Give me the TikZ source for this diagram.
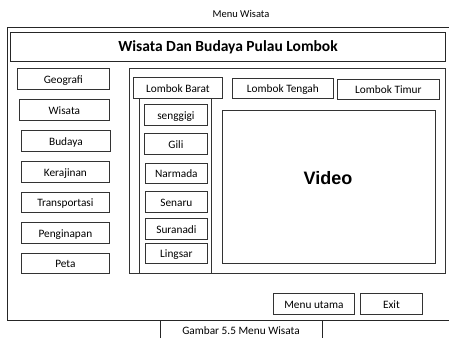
\documentclass[tikz,border=0pt]{standalone}
\usepackage{fontspec}
\setmainfont{Carlito}
\newfontfamily\videofont{Liberation Sans}
\begin{document}
\begin{tikzpicture}[x=1pt,y=-1pt,
  box/.style={draw=black!80,line width=0.8pt,fill=white,rectangle,inner sep=0pt,anchor=north west,font=\fontsize{11.3}{13}\selectfont},
  panel/.style={draw=black!80,line width=0.9pt,fill=white},
]
\useasboundingbox (0,0) rectangle (449,338);
\newcommand{\btn}[6]{% name, x1, y1, x2, y2, text
  \node[box,minimum width=#4-#2,minimum height=#5-#3] (#1) at (#2,#3) {\raisebox{-4.5pt}[0pt][0pt]{#6}};}
% heading
\node[font=\fontsize{10.5}{12}\selectfont] (head) at (241,14) {Menu Wisata};
% outer frame
\draw[line width=1pt,black!85] (449,27) -- (7,27) -- (7,320) -- (449,320);
% title
\node[draw=black!85,line width=0.9pt,rectangle,inner sep=0pt,anchor=north west,minimum width=435,minimum height=29,font=\bfseries\fontsize{15.5}{17}\selectfont] (title) at (10,32) {Wisata Dan Budaya Pulau Lombok};
% left menu
\btn{geo}{17}{68}{109}{89}{Geografi}
\btn{wis}{19}{99}{109}{120}{Wisata}
\btn{bud}{21}{130}{110}{151}{Budaya}
\btn{ker}{21}{161}{109}{182}{Kerajinan}
\btn{tra}{21}{192}{109}{212}{Transportasi}
\btn{pen}{21}{222}{109}{243}{Penginapan}
\btn{pet}{21}{253}{109}{273}{Peta}
% right panel
\node[panel,rectangle,inner sep=0pt,anchor=north west,minimum width=316,minimum height=205] (rpanel) at (129,68) {};
% list panel
\node[panel,rectangle,inner sep=0pt,anchor=north west,minimum width=72,minimum height=175] (lpanel) at (139,98) {};
\btn{lbar}{133}{77}{222}{98}{Lombok Barat}
\btn{lten}{232}{78}{333}{98}{Lombok Tengah}
\btn{ltim}{337}{79}{439}{99}{Lombok Timur}
% list items
\btn{sen}{144}{104}{207}{125}{senggigi}
\btn{gil}{144}{133}{207}{154}{Gili}
\btn{nar}{145}{163}{207}{183}{Narmada}
\btn{snr}{145}{191}{207}{212}{Senaru}
\btn{sur}{145}{218}{207}{239}{Suranadi}
\btn{lin}{145}{243}{207}{263}{Lingsar}
% video
\node[box,minimum width=213,minimum height=153] (video) at (222,110) {};
\node[font=\videofont\bfseries\fontsize{18}{20}\selectfont] (vlabel) at (328,178) {Video};
% bottom buttons
\btn{menu}{273}{293}{354}{314}{Menu utama}
\btn{exit}{360}{293}{422}{314}{Exit}
% caption
\draw[line width=0.8pt,black!85] (160,338) -- (160,320) (322,320) -- (322,338);
\node[font=\fontsize{11.3}{13}\selectfont] (cap) at (241,330.5) {Gambar 5.5 Menu Wisata};
\end{tikzpicture}
\end{document}
